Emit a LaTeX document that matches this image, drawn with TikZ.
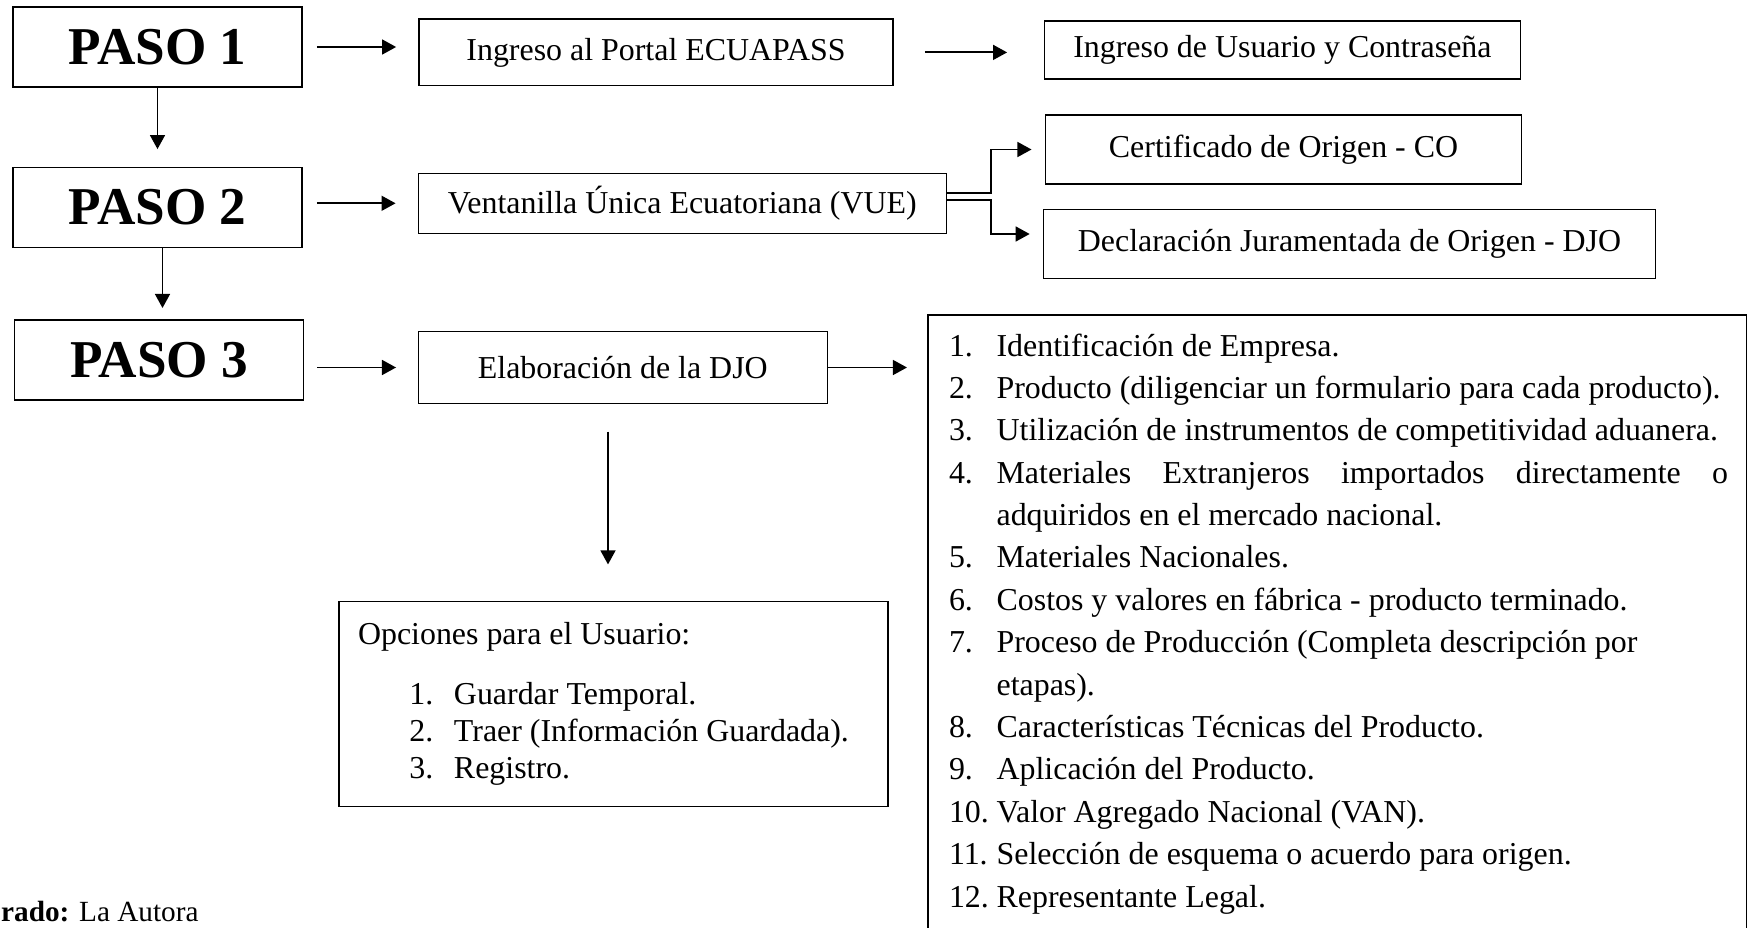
\documentclass[tikz,border=0pt]{standalone}
\usepackage{fontspec}
\setmainfont{Liberation Serif}
\usetikzlibrary{arrows.meta,calc}

\begin{document}
\begin{tikzpicture}[->,>={Triangle[length=5.3pt,width=5.6pt]},line width=0.75pt,x=0.376pt,y=-0.376pt]
\tikzstyle{every node}=[inner sep=0pt,outer sep=0pt]
\tikzstyle{paso}=[draw,line width=0.45pt,minimum width=108.7pt,minimum height=30.1pt,font=\fontsize{20}{24}\selectfont\bfseries]
\tikzstyle{caja}=[draw,line width=0.45pt,font=\fontsize{12}{14.4}\selectfont]
\useasboundingbox (0,0) rectangle (1749,928);
% pasos
\node[paso] (paso1) at (157.5,47) {PASO 1};
\node[paso] (paso2) at (157.5,207.5) {PASO 2};
\node[paso] (paso3) at (159.3,360) {PASO 3};
% cajas
\node[caja,minimum width=178.2pt,minimum height=25.1pt] (portal) at (656,52.4) {Ingreso al Portal ECUAPASS};
\node[caja,minimum width=179.2pt,minimum height=21.8pt] (usuario) at (1282.4,50) {Ingreso de Usuario y Contraseña};
\node[caja,minimum width=198.4pt,minimum height=22.6pt] (vue) at (682.3,203.3) {Ventanilla Única Ecuatoriana (VUE)};
\node[caja,minimum width=179.1pt,minimum height=25.9pt] (co) at (1283.5,149.5) {Certificado de Origen - CO};
\node[caja,minimum width=230.1pt,minimum height=25.9pt] (djo) at (1349.5,243.8) {Declaración Juramentada de Origen - DJO};
\node[caja,minimum width=153.7pt,minimum height=26.9pt] (elab) at (622.8,367.5) {Elaboración de la DJO};
\node[caja,minimum width=307.9pt,minimum height=240pt,anchor=north west] (lista) at (928,315) {};
\node[anchor=base west,font=\fontsize{12}{15.94}\selectfont] (items) at (949,356) {%
\begin{tabular}[t]{@{}p{17.9pt}@{}p{275pt}@{}}
1. & Identificación de Empresa.\\
2. & Producto (diligenciar un formulario para cada producto).\\
3. & Utilización de instrumentos de competitividad aduanera.\\
4. & Materiales Extranjeros importados directamente o\linebreak adquiridos en el mercado nacional.\\
5. & Materiales Nacionales.\\
6. & Costos y valores en fábrica - producto terminado.\\
7. & Proceso de Producción (Completa descripción por\newline etapas).\\
8. & Características Técnicas del Producto.\\
9. & Aplicación del Producto.\\
10. & Valor Agregado Nacional (VAN).\\
11. & Selección de esquema o acuerdo para origen.\\
12. & Representante Legal.
\end{tabular}};
\node[caja,minimum width=206.4pt,minimum height=77.1pt] (opciones) at (613.5,704.2) {};
\node[anchor=base west,font=\fontsize{12}{13.8}\selectfont] (menu) at (358,644) {%
\begin{tabular}[t]{@{\hspace{19.3pt}}p{16.8pt}@{}l@{}}
\multicolumn{2}{@{}l@{}}{Opciones para el Usuario:}\\[9.1pt]
1. & Guardar Temporal.\\
2. & Traer (Información Guardada).\\
3. & Registro.
\end{tabular}};
\node[anchor=base west,font=\fontsize{11}{13}\selectfont] (fuente) at (-72,921) {\textbf{Elaborado:} La Autora};
% flechas
\draw[shorten >=6.9pt] (paso1) -- (paso2);
\coordinate (a2) at ($(paso2.south)+(5,0)$);
\draw[shorten >=4.5pt] (a2) -- (a2 |- paso3.north);
\draw[shorten <=5.6pt,shorten >=8.6pt] (paso1.east) -- (paso1.east -| portal.west);
\draw[shorten <=5.6pt,shorten >=8.6pt] (paso2.east |- vue.west) -- (vue.west);
\draw[shorten <=5.1pt,shorten >=8.4pt] (paso3.east |- elab.west) -- (elab.west);
\draw[shorten <=12pt,shorten >=13.9pt] (portal.east) -- (portal.east -| usuario.west);
\draw[shorten >=5.2pt] ($(vue.east)+(0,-10)$) -- ++(44.6,0) |- (co.west);
\draw[shorten >=5.2pt] ($(vue.east)+(0,-3.3)$) -- ++(44.6,0) |- ($(djo.west)+(0,-9.8)$);
\draw[shorten >=7.9pt] (elab.east) -- (elab.east -| lista.west);
\coordinate (a3) at ($(elab.south)+(-14.8,0)$);
\draw[shorten <=10.7pt,shorten >=14pt] (a3) -- (a3 |- opciones.north);
\end{tikzpicture}
\end{document}
